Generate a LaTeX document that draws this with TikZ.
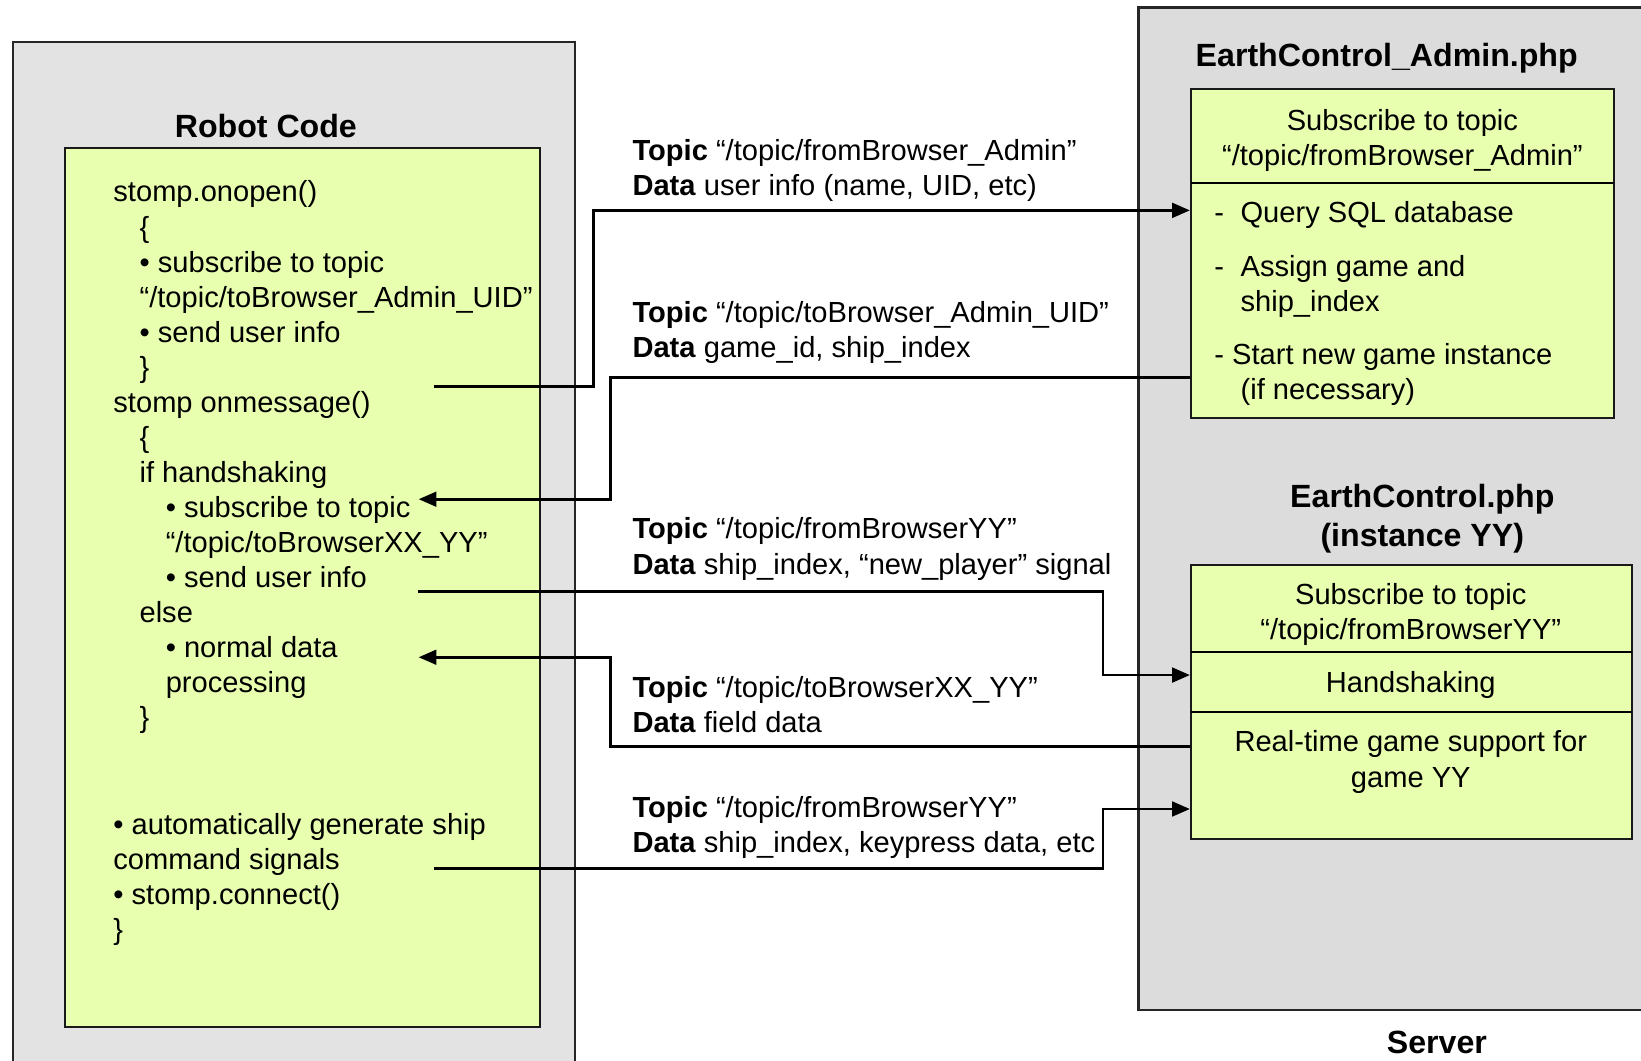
\documentclass[tikz,border=0pt]{standalone}
\usepackage{fontspec}
\setmainfont{Liberation Sans}
\usetikzlibrary{arrows.meta,fit}

\definecolor{panelgrey}{HTML}{E3E3E3}
\definecolor{servergrey}{HTML}{DCDCDC}
\definecolor{codeyellow}{HTML}{E8FFB0}

\tikzset{
  txt/.style={font=\fontsize{13.9pt}{16.75pt}\selectfont, inner sep=0pt, anchor=base west},
  ctxt/.style={font=\fontsize{13.9pt}{16.75pt}\selectfont, inner sep=0pt, anchor=base},
  ttl/.style={font=\fontsize{15.35pt}{18.5pt}\selectfont\bfseries, inner sep=0pt, anchor=base},
  panel/.style={draw=black!85, line width=0.9pt, inner sep=0pt},
  codebox/.style={draw=black!90, fill=codeyellow, line width=1pt, inner sep=0pt},
  conn/.style={draw=black, line width=1.35pt},
  arr/.style={conn, -{Triangle[length=8.5pt,width=7pt]}}
}

\begin{document}
\begin{tikzpicture}[x=0.5pt,y=-0.5pt]
\useasboundingbox (0,0) rectangle (1568,1013);
\clip (0,0) rectangle (1568,1013);
\fill[white] (0,0) rectangle (1568,1013);

% ---- client side panel ----
\node[panel, fill=panelgrey, fit={(12,40) (549,1040)}] (client) {};
\node[ttl] (robottitle) at (254,131) {Robot Code};
\node[codebox, fit={(62,141) (516,981)}] (robot) {};

% code listing, one line every 33.5 units
\node[txt] (l0)  at (108,193)   {stomp.onopen()};
\node[txt] (l1)  at (133,226.5) {\{};
\node[txt] (l2)  at (133,260)   {• subscribe to topic};
\node[txt] (l3)  at (133,293.5) {“/topic/toBrowser\_Admin\_UID”};
\node[txt] (l4)  at (133,327)   {• send user info};
\node[txt] (l5)  at (133,360.5) {\}};
\node[txt] (l6)  at (108,394)   {stomp onmessage()};
\node[txt] (l7)  at (133,427.5) {\{};
\node[txt] (l8)  at (133,461)   {if handshaking};
\node[txt] (l9)  at (158,494.5) {• subscribe to topic};
\node[txt] (l10) at (158,528)   {“/topic/toBrowserXX\_YY”};
\node[txt] (l11) at (158,561.5) {• send user info};
\node[txt] (l12) at (133,595)   {else};
\node[txt] (l13) at (158,628.5) {• normal data};
\node[txt] (l14) at (158,662)   {processing};
\node[txt] (l15) at (133,695.5) {\}};
\node[txt] (l18) at (108,797)   {• automatically generate ship};
\node[txt] (l19) at (108,830.5) {command signals};
\node[txt] (l20) at (108,864)   {• stomp.connect()};
\node[txt] (l21) at (108,897.5) {\}};

% ---- server side panel ----
\node[panel, fill=servergrey, line width=1.3pt, fit={(1088,7) (1620,965)}] (server) {};
\node[ttl] (servertitle) at (1373,1007) {Server};

\node[ttl] (admintitle) at (1325,64) {EarthControl\_Admin.php};
\node[codebox, fit={(1138,85) (1542,399)}] (admin) {};
\draw[line width=1pt] (1138,175) -- (1542,175);
\node[ctxt] (a1) at (1340,125) {Subscribe to topic};
\node[ctxt] (a2) at (1340,158) {“/topic/fromBrowser\_Admin”};
\node[txt] (a3d) at (1160,213) {-};
\node[txt] (a3) at (1185,213) {Query SQL database};
\node[txt] (a4d) at (1160,264) {-};
\node[txt] (a4) at (1185,264) {Assign game and};
\node[txt] (a5) at (1185,298) {ship\_index};
\node[txt] (a6) at (1160,348) {- Start new game instance};
\node[txt] (a7) at (1185,382) {(if necessary)};

\node[ttl] (insttitle) at (1359,485) {EarthControl.php};
\node[ttl] (insttitle2) at (1359,522) {(instance YY)};
\node[codebox, fit={(1138,540) (1559,802)}] (inst) {};
\draw[line width=1pt] (1138,623) -- (1559,623);
\draw[line width=1pt] (1138,680) -- (1559,680);
\node[ctxt] (i1) at (1348,578) {Subscribe to topic};
\node[ctxt] (i2) at (1348,611) {“/topic/fromBrowserYY”};
\node[ctxt] (i3) at (1348,662) {Handshaking};
\node[ctxt] (i4) at (1348,718) {Real-time game support for};
\node[ctxt] (i5) at (1348,752) {game YY};

% ---- message labels ----
\node[txt] (m1a) at (604,153) {\textbf{Topic} “/topic/fromBrowser\_Admin”};
\node[txt] (m1b) at (604,187) {\textbf{Data} user info (name, UID, etc)};
\node[txt] (m2a) at (604,308) {\textbf{Topic} “/topic/toBrowser\_Admin\_UID”};
\node[txt] (m2b) at (604,342) {\textbf{Data} game\_id, ship\_index};
\node[txt] (m3a) at (604,515) {\textbf{Topic} “/topic/fromBrowserYY”};
\node[txt] (m3b) at (604,549) {\textbf{Data} ship\_index, “new\_player” signal};
\node[txt] (m4a) at (604,666) {\textbf{Topic} “/topic/toBrowserXX\_YY”};
\node[txt] (m4b) at (604,700) {\textbf{Data} field data};
\node[txt] (m5a) at (604,781) {\textbf{Topic} “/topic/fromBrowserYY”};
\node[txt] (m5b) at (604,815) {\textbf{Data} ship\_index, keypress data, etc};

% ---- connectors ----
\coordinate (s1) at (415,369);
\coordinate (k1) at (567,201);
\draw[arr] (s1) -| (k1) -- (k1 -| admin.west);

\coordinate (k2) at (583,361);
\coordinate (t2) at (400,477);
\draw[arr] (k2 -| admin.west) -- (k2) |- (t2);

\coordinate (s3) at (399,565);
\coordinate (k3) at (1054,645);
\draw[arr] (s3) -| (k3) -- (k3 -| inst.west);

\coordinate (k4) at (583,713);
\coordinate (t4) at (400,628);
\draw[arr] (k4 -| inst.west) -- (k4) |- (t4);

\coordinate (s5) at (415,830);
\coordinate (k5) at (1054,773);
\draw[arr] (s5) -| (k5) -- (k5 -| inst.west);
\end{tikzpicture}
\end{document}
